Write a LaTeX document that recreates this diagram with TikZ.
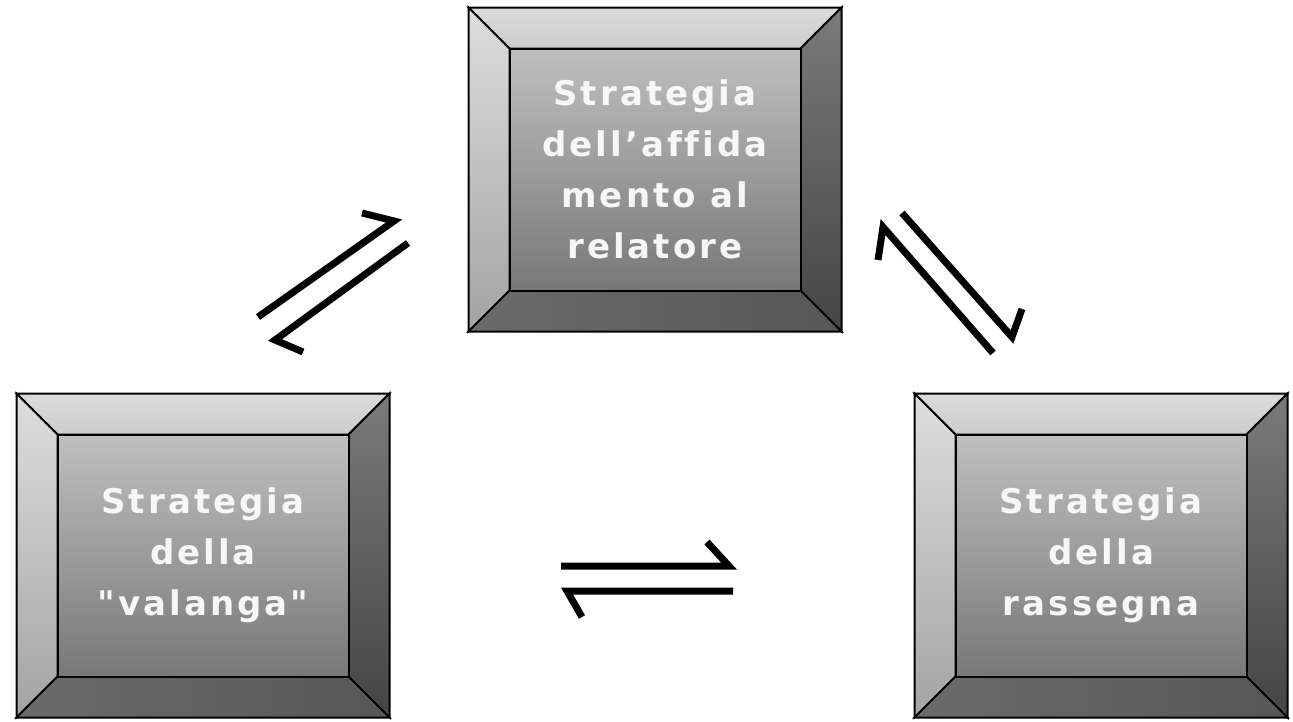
\documentclass[tikz,border=0pt]{standalone}
\usepackage{fontspec}
\newfontfamily\boxfont[LetterSpace=9,Ligatures={NoCommon}]{DejaVu Sans}
\usetikzlibrary{calc,backgrounds}
\definecolor{topA}{gray}{0.86}
\definecolor{topB}{gray}{0.80}
\definecolor{leftA}{gray}{0.87}
\definecolor{leftB}{gray}{0.64}
\definecolor{rightA}{gray}{0.48}
\definecolor{rightB}{gray}{0.27}
\definecolor{botA}{gray}{0.42}
\definecolor{botB}{gray}{0.34}
\definecolor{inA}{gray}{0.75}
\definecolor{inB}{gray}{0.47}
\definecolor{txt}{gray}{0.97}
\tikzset{
  bevelbox/.style={rectangle, minimum width=373pt, minimum height=324pt,
    inner sep=0pt, outer sep=0pt, align=center, text=txt,
    font=\boxfont\bfseries\fontsize{34}{51}\selectfont},
  face/.style={draw=black, line width=2pt, line join=miter},
  harpoon/.style={line width=7pt, line join=miter, line cap=butt},
}
\newcommand\bevelfaces[1]{%
  \begin{scope}[on background layer]
    \coordinate (#1-iNW) at ($(#1.north west)+(41,41)$);
    \coordinate (#1-iNE) at ($(#1.north east)+(-41,41)$);
    \coordinate (#1-iSE) at ($(#1.south east)+(-41,-41)$);
    \coordinate (#1-iSW) at ($(#1.south west)+(41,-41)$);
    \shade[face, top color=topA, bottom color=topB]
      (#1.north west) -- (#1.north east) -- (#1-iNE) -- (#1-iNW) -- cycle;
    \shade[face, top color=leftA, bottom color=leftB]
      (#1.north west) -- (#1-iNW) -- (#1-iSW) -- (#1.south west) -- cycle;
    \shade[face, top color=rightA, bottom color=rightB]
      (#1.north east) -- (#1.south east) -- (#1-iSE) -- (#1-iNE) -- cycle;
    \shade[face, left color=botA, right color=botB]
      (#1.south west) -- (#1-iSW) -- (#1-iSE) -- (#1.south east) -- cycle;
    \shade[face, top color=inA, bottom color=inB]
      (#1-iNW) rectangle (#1-iSE);
  \end{scope}}
\begin{document}
\begin{tikzpicture}[x=1pt, y=-1pt]
\useasboundingbox (0,0) rectangle (1293,721);
\node[bevelbox] (T) at (655,169.5) {Strategia\\dell’affida\\mento al\\relatore};
\node[bevelbox] (L) at (203,555.5) {Strategia\\della\\"valanga"};
\node[bevelbox] (R) at (1101,555.5) {Strategia\\della\\rassegna};
\bevelfaces{T}
\bevelfaces{L}
\bevelfaces{R}
% left pair
\coordinate (l1s) at (258,317); \coordinate (l1t) at (394,221); \coordinate (l1b) at (362,213);
\coordinate (l2s) at (408,243); \coordinate (l2t) at (275,340); \coordinate (l2b) at (303,352);
\draw[harpoon] (l1s) -- (l1t) -- (l1b);
\draw[harpoon] (l2s) -- (l2t) -- (l2b);
% right pair
\coordinate (r1s) at (993,353); \coordinate (r1t) at (883,227); \coordinate (r1b) at (878,260);
\coordinate (r2s) at (902,213); \coordinate (r2t) at (1012,337); \coordinate (r2b) at (1022,309);
\draw[harpoon] (r1s) -- (r1t) -- (r1b);
\draw[harpoon] (r2s) -- (r2t) -- (r2b);
% bottom pair
\coordinate (b1s) at (561,566); \coordinate (b1t) at (729,566); \coordinate (b1b) at (707,542);
\coordinate (b2s) at (733,591); \coordinate (b2t) at (567,591); \coordinate (b2b) at (582,617);
\draw[harpoon] (b1s) -- (b1t) -- (b1b);
\draw[harpoon] (b2s) -- (b2t) -- (b2b);
\end{tikzpicture}
\end{document}
